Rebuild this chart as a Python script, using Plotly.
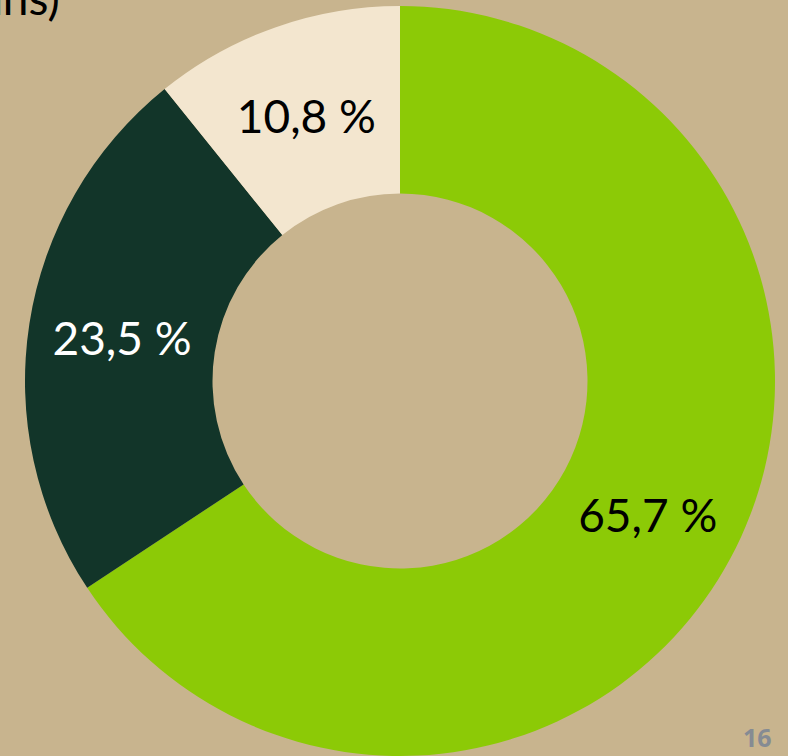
import plotly.graph_objects as go

labels = ["A", "B", "C"]
values = [65.7, 23.5, 10.8]
text_labels = ["65,7 %", "23,5 %", "10,8 %"]
colors = ["#8cca06", "#123529", "#f3e6cf"]
text_colors = ["#000000", "#ffffff", "#000000"]

W, H = 788, 756

fig = go.Figure(go.Pie(
    labels=labels,
    values=values,
    text=text_labels,
    textinfo="text",
    textposition="inside",
    insidetextorientation="horizontal",
    textfont=dict(family="Lato", size=46, color=text_colors),
    marker=dict(colors=colors, line=dict(width=0)),
    hole=0.5,
    sort=False,
    direction="clockwise",
    rotation=0,
    showlegend=False,
    domain=dict(x=[24 / W, 776 / W], y=[0, 750 / H]),
))

fig.add_annotation(
    text="ans)", xref="paper", yref="paper", x=62 / W, y=1 + 3 / H,
    xanchor="right", yanchor="middle", showarrow=False,
    font=dict(family="Lato", size=46, color="#000000"),
)
fig.add_annotation(
    text="<b>16</b>", xref="paper", yref="paper", x=774 / W, y=(H - 737) / H,
    xanchor="right", yanchor="middle", showarrow=False,
    font=dict(family="Open Sans", size=25, color="#858b93"),
)

fig.update_layout(
    width=W, height=H,
    margin=dict(l=0, r=0, t=0, b=0),
    paper_bgcolor="#c8b48e",
    plot_bgcolor="#c8b48e",
)

fig.write_html(
    "out.html",
    config={"displayModeBar": False},
    post_script="document.body.style.margin='0';document.body.style.overflow='hidden';document.body.style.background='#c8b48e';",
)
